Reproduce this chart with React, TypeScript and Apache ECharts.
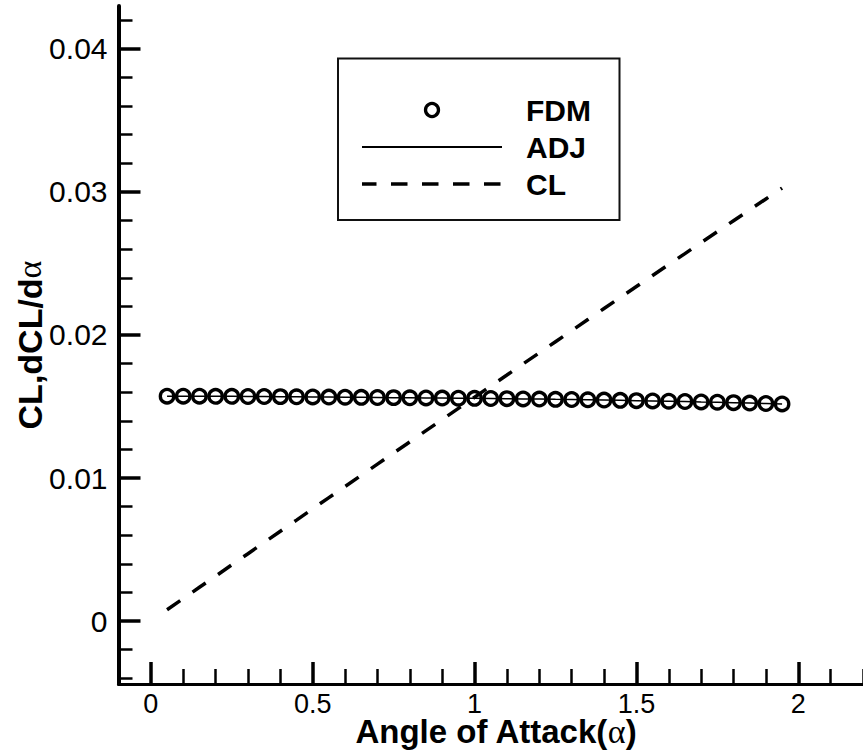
import React, { useEffect, useRef } from "react";
import * as echarts from "echarts";

// Angle of attack samples (deg)
const alpha = [
  0.05, 0.1, 0.15, 0.2, 0.25, 0.3, 0.35, 0.4, 0.45, 0.5,
  0.55, 0.6, 0.65, 0.7, 0.75, 0.8, 0.85, 0.9, 0.95, 1.0,
  1.05, 1.1, 1.15, 1.2, 1.25, 1.3, 1.35, 1.4, 1.45, 1.5,
  1.55, 1.6, 1.65, 1.7, 1.75, 1.8, 1.85, 1.9, 1.95,
];

// dCL/dα by finite differences
const fdm = [
  0.01572, 0.01572, 0.01572, 0.01571, 0.01571, 0.0157, 0.0157, 0.01569, 0.01568, 0.01567,
  0.01566, 0.01565, 0.01564, 0.01563, 0.01562, 0.01561, 0.0156, 0.01559, 0.01558, 0.01557,
  0.01556, 0.01555, 0.01553, 0.01552, 0.0155, 0.01549, 0.01547, 0.01545, 0.01543, 0.01541,
  0.01539, 0.01537, 0.01535, 0.01532, 0.0153, 0.01527, 0.01524, 0.01521, 0.01518,
];

// dCL/dα from the adjoint solution
const adj = [
  0.01572, 0.01572, 0.01572, 0.01571, 0.01571, 0.0157, 0.0157, 0.01569, 0.01568, 0.01567,
  0.01566, 0.01565, 0.01564, 0.01563, 0.01562, 0.01561, 0.0156, 0.01559, 0.01558, 0.01557,
  0.01556, 0.01555, 0.01553, 0.01552, 0.0155, 0.01549, 0.01547, 0.01545, 0.01543, 0.01541,
  0.01539, 0.01537, 0.01535, 0.01532, 0.0153, 0.01527, 0.01524, 0.01521, 0.01518,
];

// Lift coefficient
const cl = [
  0.00079, 0.00157, 0.00236, 0.00314, 0.00393, 0.00471, 0.0055, 0.00628, 0.00706, 0.00785,
  0.00863, 0.00941, 0.01019, 0.01097, 0.01175, 0.01253, 0.01331, 0.01409, 0.01487, 0.01565,
  0.01643, 0.0172, 0.01798, 0.01875, 0.01953, 0.0203, 0.02108, 0.02185, 0.02262, 0.02339,
  0.02416, 0.02493, 0.02569, 0.02646, 0.02722, 0.02799, 0.02875, 0.02951, 0.03027,
];

const xMajorTicks = [0, 0.5, 1, 1.5, 2];
const xMinorTicks = [
  -0.1, 0.1, 0.2, 0.3, 0.4, 0.6, 0.7, 0.8, 0.9, 1.1, 1.2, 1.3, 1.4,
  1.6, 1.7, 1.8, 1.9, 2.1, 2.2,
];
const yMajorTicks = [0, 0.01, 0.02, 0.03, 0.04];
const yMinorTicks = [
  -0.004, -0.002, 0.002, 0.004, 0.006, 0.008, 0.012, 0.014, 0.016, 0.018,
  0.022, 0.024, 0.026, 0.028, 0.032, 0.034, 0.036, 0.038, 0.042,
];

const legendNames = ["FDM", "ADJ", "CL"];

const FONT = "'Liberation Sans', Arial, Helvetica, sans-serif";
const X_MIN = -0.1;
const X_MAX = 2.2;
const Y_MIN = -0.0044;
const Y_MAX = 0.043;

const fmt = (v: number) => String(parseFloat(v.toFixed(4)));

export default function App() {
  const ref = useRef<HTMLDivElement>(null);

  useEffect(() => {
    if (!ref.current) return;
    const chart = echarts.init(ref.current, undefined, { renderer: "svg" });

    const pairs = (ys: number[]) => alpha.map((a, i) => [a, ys[i]]);
    const dash = [16, 15];

    const baseX = {
      type: "value" as const,
      min: X_MIN,
      max: X_MAX,
      position: "bottom" as const,
      splitLine: { show: false },
    };
    const baseY = {
      type: "value" as const,
      min: Y_MIN,
      max: Y_MAX,
      position: "left" as const,
      splitLine: { show: false },
    };

    // legend block
    const lx0 = 362;
    const lx1 = 502;
    const textX = 526;
    const rows = [110, 147, 184];

    const alphaRich = (lh: number) => ({
      a: {
        fontFamily: "'Liberation Serif', serif",
        fontSize: 34,
        fontWeight: "normal",
        color: "#000",
        lineHeight: lh,
      },
    });

    chart.setOption({
      animation: false,
      backgroundColor: "#ffffff",
      grid: {
        left: 118.5,
        top: 6,
        right: 0,
        bottom: 72,
        containLabel: false,
        outerBoundsMode: "none",
      },
      xAxis: [
        {
          ...baseX,
          name: "Angle of Attack({a|α})",
          nameLocation: "middle",
          nameGap: 32,
          nameMoveOverlap: false,
          nameTextStyle: {
            fontFamily: FONT,
            fontSize: 33,
            fontWeight: "bold",
            color: "#000",
            lineHeight: 30,
            padding: [0, 0, 0, 10],
            rich: alphaRich(30),
          },
          axisLine: { show: true, onZero: false, lineStyle: { color: "#000", width: 3 } },
          axisTick: {
            show: true,
            inside: true,
            length: 22,
            customValues: xMajorTicks,
            lineStyle: { color: "#000", width: 3.5 },
          },
          axisLabel: {
            show: true,
            customValues: xMajorTicks,
            margin: 9,
            lineHeight: 22,
            fontFamily: FONT,
            fontSize: 27,
            color: "#000",
            formatter: (v: number) => fmt(v),
          },
        },
        {
          ...baseX,
          axisLine: { show: false, onZero: false },
          axisTick: {
            show: true,
            inside: true,
            length: 15,
            customValues: xMinorTicks,
            lineStyle: { color: "#000", width: 2.5 },
          },
          axisLabel: { show: false },
        },
      ],
      yAxis: [
        {
          ...baseY,
          name: "CL,dCL/d{a|α}",
          nameLocation: "middle",
          nameGap: 72,
          nameMoveOverlap: false,
          nameTextStyle: {
            fontFamily: FONT,
            fontSize: 34,
            fontWeight: "bold",
            color: "#000",
            rich: alphaRich(34),
          },
          axisLine: { show: true, onZero: false, lineStyle: { color: "#000", width: 4 } },
          axisTick: {
            show: true,
            inside: true,
            length: 22,
            customValues: yMajorTicks,
            lineStyle: { color: "#000", width: 3.5 },
          },
          axisLabel: {
            show: true,
            customValues: yMajorTicks,
            margin: 11,
            fontFamily: FONT,
            fontSize: 30,
            color: "#000",
            formatter: (v: number) => fmt(v),
          },
        },
        {
          ...baseY,
          axisLine: { show: false, onZero: false },
          axisTick: {
            show: true,
            inside: true,
            length: 14,
            customValues: yMinorTicks,
            lineStyle: { color: "#000", width: 2.5 },
          },
          axisLabel: { show: false },
        },
      ],
      series: [
        {
          name: legendNames[1],
          type: "line",
          data: pairs(adj),
          symbol: "none",
          lineStyle: { color: "#000", width: 1.5 },
          z: 2,
        },
        {
          name: legendNames[2],
          type: "line",
          data: pairs(cl),
          symbol: "none",
          lineStyle: { color: "#000", width: 3.5, type: dash },
          z: 2,
        },
        {
          name: legendNames[0],
          type: "scatter",
          data: pairs(fdm),
          symbol: "circle",
          symbolSize: 13.5,
          itemStyle: {
            color: "rgba(0,0,0,0)",
            borderColor: "#000",
            borderWidth: 3.3,
            opacity: 1,
          },
          z: 3,
        },
      ],
      graphic: [
        {
          type: "rect",
          shape: { x: 338, y: 58.5, width: 281.5, height: 161.5 },
          style: { fill: "#fff", stroke: "#111", lineWidth: 2 },
          z: 10,
        },
        {
          type: "circle",
          shape: { cx: (lx0 + lx1) / 2, cy: rows[0], r: 6.5 },
          style: { fill: "none", stroke: "#000", lineWidth: 3.3 },
          z: 11,
        },
        {
          type: "line",
          shape: { x1: lx0, y1: rows[1], x2: lx1, y2: rows[1] },
          style: { stroke: "#000", lineWidth: 2 },
          z: 11,
        },
        {
          type: "line",
          shape: { x1: lx0, y1: rows[2], x2: lx1, y2: rows[2] },
          style: { stroke: "#000", lineWidth: 3.5, lineDash: [16.5, 14.5], lineDashOffset: 1.5 },
          z: 11,
        },
        ...legendNames.map((n, i) => ({
          type: "text",
          x: textX,
          y: rows[i],
          style: {
            text: n,
            fontFamily: FONT,
            fontSize: 30,
            fontWeight: "bold",
            fill: "#000",
            verticalAlign: "middle",
            align: "left",
          },
          z: 11,
        })),
      ],
    });

    return () => chart.dispose();
  }, []);

  return (
    <div
      ref={ref}
      style={{ position: "absolute", left: 0, top: 0, width: 863, height: 756 }}
    />
  );
}
